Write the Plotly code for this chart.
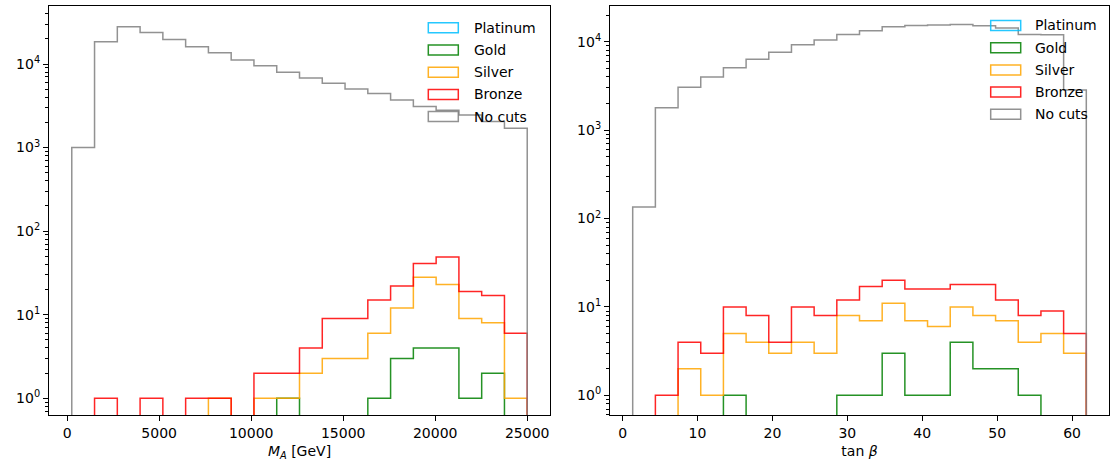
import numpy as np
import plotly.graph_objects as go

# ---------------- data ----------------
MA_MIN, MA_MAX, N_BINS = 250.0, 25000.0, 20
TB_MIN, TB_MAX = 1.35, 61.9

series_names = ["Platinum", "Gold", "Silver", "Bronze", "No cuts"]
series_colors = ["#00bfff", "#008000", "#ffa500", "#ff0000", "#808080"]

# M_A histogram counts (20 bins)
platinum_ma = [0] * 20
gold_ma = [0, 0, 0, 0, 0, 0, 0, 0, 0, 1, 0, 0, 0, 1, 3, 4, 4, 1, 2, 0]
silver_ma = [0, 0, 0, 0, 0, 0, 1, 0, 1, 1, 2, 3, 3, 6, 12, 28, 23, 9, 8, 1]
bronze_ma = [0, 1, 0, 1, 0, 1, 1, 0, 2, 2, 4, 9, 9, 15, 22, 41, 49, 19, 17, 6]
nocuts_ma = [1000, 18500, 27900, 23900, 19700, 16100, 13600, 11200, 9550, 7950,
             6800, 5880, 5010, 4450, 3700, 3100, 2800, 2450, 2050, 1700]

# tan beta histogram counts (20 bins)
platinum_tb = [0] * 20
gold_tb = [0, 0, 0, 0, 1, 0, 0, 0, 0, 1, 1, 3, 1, 1, 4, 2, 2, 1, 0, 0]
silver_tb = [0, 0, 2, 1, 5, 4, 3, 4, 3, 8, 7, 11, 7, 6, 10, 8, 7, 4, 5, 3]
bronze_tb = [0, 1, 4, 3, 10, 8, 4, 10, 8, 12, 17, 20, 16, 16, 18, 18, 12, 8, 9, 5]
nocuts_tb = [135, 1790, 3050, 3980, 5080, 6320, 7580, 9250, 10450, 12100,
             13300, 14800, 15300, 15500, 15700, 15200, 14300, 12100, 12000, 2850]

ma_ticks = [0, 5000, 10000, 15000, 20000, 25000]
tb_ticks = [0, 10, 20, 30, 40, 50, 60]
y_ticks = [1, 10, 100, 1000, 10000]
y_ticktext = ["10<sup>0</sup>", "10<sup>1</sup>", "10<sup>2</sup>", "10<sup>3</sup>", "10<sup>4</sup>"]

# ---------------- helpers ----------------
FLOOR = 1e-4


def step_path(edges, counts):
    xs, ys = [edges[0]], [FLOOR]
    for i, c in enumerate(counts):
        v = c if c > 0 else FLOOR
        xs += [edges[i], edges[i + 1]]
        ys += [v, v]
    xs.append(edges[-1])
    ys.append(FLOOR)
    return xs, ys


ma_edges = np.linspace(MA_MIN, MA_MAX, N_BINS + 1)
tb_edges = np.linspace(TB_MIN, TB_MAX, N_BINS + 1)

FONT = "DejaVu Sans"
FS = 14

fig = go.Figure()

panels = [
    ("x", "y", ma_edges, [platinum_ma, gold_ma, silver_ma, bronze_ma, nocuts_ma]),
    ("x2", "y2", tb_edges, [platinum_tb, gold_tb, silver_tb, bronze_tb, nocuts_tb]),
]
for xa, ya, edges, data in panels:
    for name, col, counts in zip(series_names, series_colors, data):
        xs, ys = step_path(edges, counts)
        fig.add_trace(go.Scatter(x=xs, y=ys, mode="lines", name=name,
                                 line=dict(color=col, width=1.5), opacity=0.85,
                                 xaxis=xa, yaxis=ya, showlegend=False,
                                 hoverinfo="skip"))

# layout geometry
L, R, T, B = 49, 3, 6, 50
W, H = 1112, 465
PW, PH = W - L - R, H - T - B


def px_x(p):
    return (p - L) / PW


def px_y(p):
    return 1 - (p - T) / PH


left_dom = [0, px_x(550)]
right_dom = [px_x(610), 1]

minor_vals = []
for k in range(-1, 5):
    for s in range(2, 10):
        minor_vals.append(s * 10 ** k)

axis_common = dict(showgrid=False, zeroline=False, showline=True, linecolor="black",
                   linewidth=1.1, mirror=True, ticks="outside", ticklen=5, tickwidth=1.1,
                   tickcolor="black", tickfont=dict(family=FONT, size=FS, color="black"))

yaxis_common = dict(axis_common, type="log", tickmode="array", tickvals=y_ticks,
                    ticktext=y_ticktext,
                    minor=dict(tickmode="array", tickvals=minor_vals, ticks="outside",
                               ticklen=2.8, tickwidth=0.8, tickcolor="black", showgrid=False))

fig.update_layout(
    width=W, height=H,
    margin=dict(l=L, r=R, t=T, b=B),
    plot_bgcolor="white", paper_bgcolor="white",
    showlegend=False,
    font=dict(family=FONT, size=FS, color="black"),
    xaxis=dict(axis_common, domain=left_dom, range=[-987.5, 26237.5], tickmode="array",
               tickvals=ma_ticks, ticktext=[str(t) for t in ma_ticks],
               title=dict(text="<i>M</i><sub><i>A</i></sub> [GeV]", standoff=6,
                          font=dict(family=FONT, size=FS)), anchor="y"),
    yaxis=dict(yaxis_common, range=[-0.2, 4.694], anchor="x"),
    xaxis2=dict(axis_common, domain=right_dom, range=[-1.68, 64.93], tickmode="array",
                tickvals=tb_ticks, ticktext=[str(t) for t in tb_ticks],
                title=dict(text="tan <i>β</i>", standoff=6,
                           font=dict(family=FONT, size=FS)), anchor="y2"),
    yaxis2=dict(yaxis_common, range=[-0.222, 4.404], anchor="x2"),
)

# manual legends (outlined boxes like matplotlib step-hist handles)
legend_specs = [
    (428.3, 471.7, [27.8, 50.0, 72.2, 94.4, 116.6]),
    (990.7, 1033.3, [25.5, 47.7, 69.9, 92.1, 114.3]),
]
for box_x, text_x, centers in legend_specs:
    for name, col, cy in zip(series_names, series_colors, centers):
        fig.add_shape(type="rect", xref="paper", yref="paper",
                      x0=px_x(box_x), x1=px_x(box_x + 30),
                      y0=px_y(cy + 5), y1=px_y(cy - 5),
                      line=dict(color=col, width=1.5), fillcolor="rgba(0,0,0,0)",
                      opacity=0.85)
        fig.add_annotation(xref="paper", yref="paper", x=px_x(text_x), y=px_y(cy),
                           text=name, showarrow=False, xanchor="left", yanchor="middle",
                           font=dict(family=FONT, size=FS, color="black"))

fig.write_html("out.html")
